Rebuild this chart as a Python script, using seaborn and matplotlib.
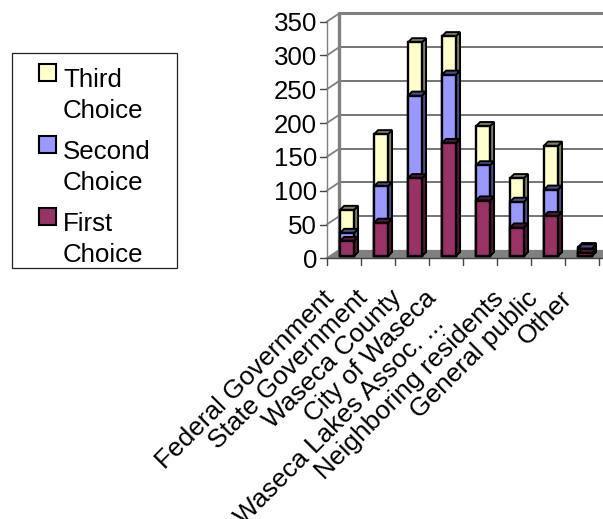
import numpy as np
import pandas as pd
import matplotlib
matplotlib.use('Agg')
import matplotlib.pyplot as plt
from matplotlib.patches import Polygon, Rectangle
from matplotlib.transforms import Affine2D
import seaborn as sns

categories = ['Federal Government', 'State Government', 'Waseca County', 'City of Waseca',
              'Waseca Lakes Assoc. ...\u00a0\u00a0\u00a0\u00a0\u00a0', 'Neighboring residents', 'General public', 'Other']
first_choice = [22, 49, 115, 167, 82, 42, 59, 4]
second_choice = [12, 54, 122, 101, 52, 38, 39, 7]
third_choice = [34, 77, 79, 57, 58, 35, 65, 2]
y_ticks = [0, 50, 100, 150, 200, 250, 300, 350]
series_names = ['Third\nChoice', 'Second\nChoice', 'First\nChoice']

W, H = 603, 519
sns.set_theme(style='white')
plt.rcParams['font.family'] = ['Liberation Sans', 'DejaVu Sans']
FS = 18.6

fig = plt.figure(figsize=(W / 100, H / 100), dpi=100)
# axes = front plane of the fake 3d box
left, right, top, bottom = 326.7, 598.7, 21.7, 258.3
ax = fig.add_axes([left / W, 1 - bottom / H, (right - left) / W, (bottom - top) / H])

df = pd.DataFrame({'cat': categories, 'first': first_choice, 'second': second_choice, 'third': third_choice})
df['s1'] = df['first']
df['s2'] = df['s1'] + df['second']
df['s3'] = df['s2'] + df['third']

DEPTH_X, DEPTH_Y = 12.7, 8.4    # wall depth px
BAR_X, BAR_Y = 3.2, 2.3         # bar sits inside the floor
BAR_D = 4.2                     # depth of a bar px
EDGE = 1.7
front = ['#993366', '#9999ff', '#ffffcc']
dark = ['#4d1933', '#4d4d80', '#7f7f66']
cols = ['s3', 's2', 's1']

ax.set_xlim(-0.5, 7.5)
ax.set_ylim(0, 350)
base = ax.transData
back = base + Affine2D().translate(DEPTH_X, DEPTH_Y)

# walls, floor, gridlines
x0, x1 = -0.5, 8.5
floor = Polygon(base.transform([(x0, 0), (x1, 0)]).tolist() + back.transform([(x1, 0), (x0, 0)]).tolist(),
                closed=True, transform=None, fc='#808080', ec='none', zorder=1, clip_on=False)
ax.add_artist(floor)
for v in y_ticks:
    if v:
        ax.plot([x0, x1], [v, v], transform=back, color='#6a6a6a', lw=1.3, zorder=1, clip_on=False)
    p = base.transform((x0, v))
    ax.plot([p[0], p[0] + DEPTH_X], [p[1], p[1] + DEPTH_Y], transform=None, color='#808080', lw=1.3, zorder=1, clip_on=False)
    ax.plot([p[0] - 7, p[0]], [p[1], p[1]], transform=None, color='#444444', lw=1, zorder=1, clip_on=False)
ax.plot([x0, x1], [350, 350], transform=back, color='#808080', lw=2.2, zorder=1, clip_on=False)
ax.plot([x0, x0], [0, 350], transform=back, color='#808080', lw=2.4, zorder=1, clip_on=False)
ax.plot([x0, x0], [0, 350], color='#808080', lw=1, zorder=1, clip_on=False)
ax.plot([x0, x1], [0, 0], color='#444444', lw=1, zorder=3, clip_on=False)
for i in np.arange(-0.5, 8):
    p = base.transform((i, 0))
    ax.plot([p[0], p[0]], [p[1], p[1] - 7], transform=None, color='#444444', lw=1, zorder=1, clip_on=False)

# stacked by overdrawing: tallest first
n = len(categories)
for k, col in enumerate(cols):
    before = len(ax.patches)
    sns.barplot(data=df, x='cat', y=col, color=front[2 - k], saturation=1, width=0.41,
                edgecolor='black', linewidth=EDGE, ax=ax, zorder=4 + k, order=categories)
    for b in ax.patches[before:]:
        x_a, x_b = b.get_x(), b.get_x() + b.get_width()
        h = b.get_height()
        pa = base.transform((x_a, h)) + (BAR_X, BAR_Y)
        pb = base.transform((x_b, h)) + (BAR_X, BAR_Y)
        pc = base.transform((x_b, 0)) + (BAR_X, BAR_Y)
        d = np.array([BAR_D, BAR_D])
        ax.add_artist(Polygon([pb, pb + d, pc + d, pc], closed=True, transform=None, fc=dark[2 - k],
                              ec='black', lw=EDGE * 0.8, zorder=3.5 + k, clip_on=False))
        ax.add_artist(Polygon([pa, pb, pb + d, pa + d], closed=True, transform=None, fc=dark[2 - k],
                              ec='black', lw=EDGE * 0.8, zorder=3.5 + k, clip_on=False))
        b.set_transform(base + Affine2D().translate(BAR_X, BAR_Y))
        b.set_clip_on(False)

ax.set_xlim(-0.5, 7.5)
ax.set_ylim(0, 350)
ax.set_xlabel('')
ax.set_ylabel('')
ax.set_yticks(y_ticks)
ax.set_xticks(range(n))
ax.set_xticklabels(categories, rotation=45, ha='right', va='top', rotation_mode='anchor', fontsize=18.9, color='black')
ax.set_yticklabels([str(v) for v in y_ticks], fontsize=FS, color='black')
ax.tick_params(axis='x', length=0, pad=20)
ax.tick_params(axis='y', length=0, pad=7)
for lab in ax.get_xticklabels():
    lab.set_transform(lab.get_transform() + Affine2D().translate(-22, 0))
ax.patch.set_alpha(0)
sns.despine(ax=ax, left=True, bottom=True)

# legend box
fig.add_artist(Rectangle((11.7 / W, 1 - 268 / H), 165 / W, 215.3 / H, transform=fig.transFigure,
                         fc='white', ec='#222222', lw=0.9))
for name, color, sy in zip(series_names, front[::-1], [64, 136, 208]):
    fig.add_artist(Rectangle((39.5 / W, 1 - (sy + 17) / H), 17 / W, 17 / H, transform=fig.transFigure,
                             fc=color, ec='black', lw=1.5))
    fig.text(63 / W, 1 - (sy + 23) / H, name.split('\n')[0], fontsize=FS, color='black', va='baseline')
    fig.text(63 / W, 1 - (sy + 54.5) / H, name.split('\n')[1], fontsize=FS, color='black', va='baseline')

fig.savefig('out.png', dpi=100)
